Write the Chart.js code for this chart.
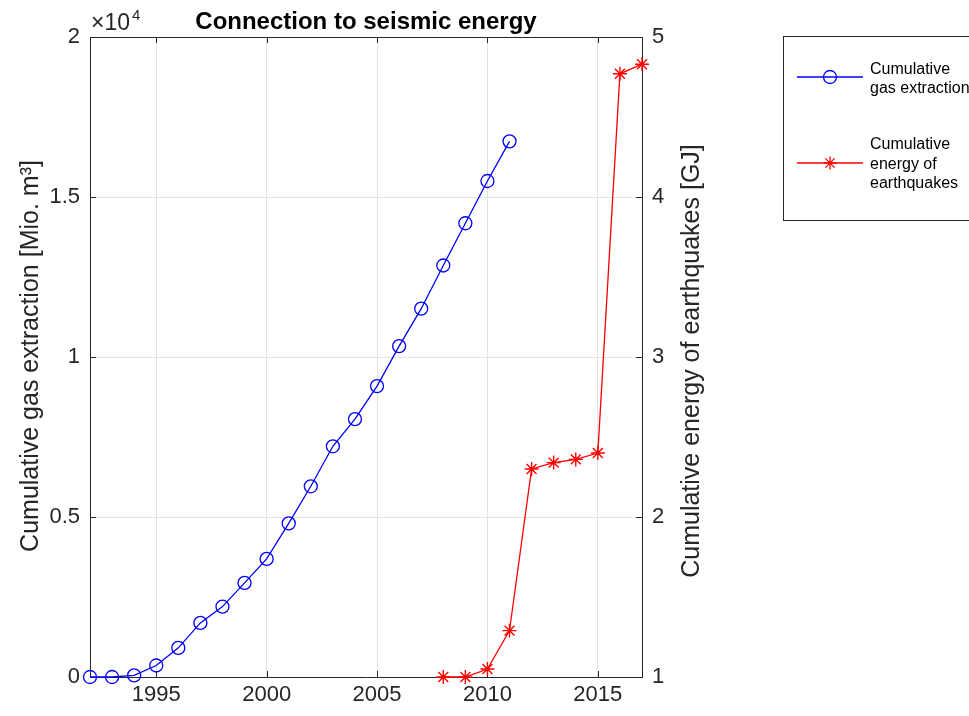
<!DOCTYPE html>
<html><head><meta charset="utf-8">
<script src="https://cdn.jsdelivr.net/npm/chart.js@4.4.1/dist/chart.umd.min.js"></script>
<style>html,body{margin:0;padding:0;background:#fff;overflow:hidden}canvas{display:block}</style>
</head><body>
<canvas id="c" width="969" height="716"></canvas>
<script>
// ---- data ----
const gasYears = [1992,1993,1994,1995,1996,1997,1998,1999,2000,2001,2002,2003,2004,2005,2006,2007,2008,2009,2010,2011];
const gasValues = [0,0,50,360,910,1690,2200,2940,3690,4800,5960,7210,8060,9090,10340,11510,12860,14180,15500,16740];
const quakeYears = [2008,2009,2010,2011,2012,2013,2014,2015,2016,2017];
const quakeValues = [1.0,1.0,1.05,1.29,2.30,2.34,2.36,2.40,4.77,4.83];
const xTicks = [1995,2000,2005,2010,2015];
const leftTicks = [0,5000,10000,15000,20000];
const rightTicks = [1,2,3,4,5];
const titleText = 'Connection to seismic energy';
const leftLabel = 'Cumulative gas extraction [Mio. m\u00B3]';
const rightLabel = 'Cumulative energy of earthquakes [GJ]';
const legendGas = ['Cumulative','gas extraction'];
const legendQuake = ['Cumulative','energy of','earthquakes'];

const FONT = '"Liberation Sans", Arial, Helvetica, sans-serif';
const AXIS = '#262626';
const GRID = '#e3e3e3';
const BLUE = '#0000ff', RED = '#ff0000';
const TL = 6;
Chart.defaults.font.family = FONT;

function drawStar(ctx, x, y, r) {
  ctx.beginPath();
  ctx.moveTo(x, y - r); ctx.lineTo(x, y + r);
  ctx.moveTo(x - r, y); ctx.lineTo(x + r, y);
  const d = r * Math.cos(Math.PI / 4);
  ctx.moveTo(x - d, y - d); ctx.lineTo(x + d, y + d);
  ctx.moveTo(x - d, y + d); ctx.lineTo(x + d, y - d);
  ctx.stroke();
}

const decor = {
  id: 'decor',
  beforeDatasetsDraw(chart) {
    const ctx = chart.ctx, a = chart.chartArea;
    const xs = chart.scales.x, yl = chart.scales.y, yr = chart.scales.y1;
    ctx.save();
    ctx.strokeStyle = AXIS; ctx.lineWidth = 1;
    ctx.beginPath();
    ctx.moveTo(a.left, Math.round(a.top) + 0.5); ctx.lineTo(a.right, Math.round(a.top) + 0.5);
    xs.ticks.forEach(t => {
      const px = Math.round(xs.getPixelForValue(t.value)) + 0.5;
      ctx.moveTo(px, a.bottom); ctx.lineTo(px, a.bottom - TL);
      ctx.moveTo(px, a.top); ctx.lineTo(px, a.top + TL);
    });
    yl.ticks.forEach(t => {
      const py = Math.round(yl.getPixelForValue(t.value)) + 0.5;
      ctx.moveTo(a.left, py); ctx.lineTo(a.left + TL, py);
    });
    yr.ticks.forEach(t => {
      const py = Math.round(yr.getPixelForValue(t.value)) + 0.5;
      ctx.moveTo(a.right, py); ctx.lineTo(a.right - TL, py);
    });
    ctx.stroke();
    ctx.restore();
  },
  afterDraw(chart) {
    const ctx = chart.ctx, a = chart.chartArea;
    ctx.save();
    // title
    ctx.fillStyle = '#000';
    ctx.font = 'bold 24px ' + FONT;
    ctx.textAlign = 'center'; ctx.textBaseline = 'alphabetic';
    ctx.fillText(titleText, (a.left + a.right) / 2, 29);
    // exponent
    ctx.fillStyle = AXIS;
    ctx.textAlign = 'left';
    ctx.font = '23px ' + FONT;
    ctx.fillText('\u00D710', 91, 30);
    const w = ctx.measureText('\u00D710').width;
    ctx.font = '15px ' + FONT;
    ctx.fillText('4', 91 + w + 2, 20);
    // axis titles
    ctx.font = '25px ' + FONT;
    ctx.textAlign = 'center';
    ctx.save(); ctx.translate(38, 356); ctx.rotate(-Math.PI / 2); ctx.fillText(leftLabel, 0, 0); ctx.restore();
    ctx.save(); ctx.translate(699, 361); ctx.rotate(-Math.PI / 2); ctx.fillText(rightLabel, 0, 0); ctx.restore();
    // legend
    ctx.strokeStyle = AXIS; ctx.lineWidth = 1;
    ctx.strokeRect(783.5, 36.5, 300, 184);
    ctx.lineWidth = 1.3;
    ctx.strokeStyle = BLUE;
    ctx.beginPath(); ctx.moveTo(797, 77); ctx.lineTo(863, 77); ctx.stroke();
    ctx.beginPath(); ctx.arc(830, 77, 6.5, 0, Math.PI * 2); ctx.stroke();
    ctx.strokeStyle = RED;
    ctx.beginPath(); ctx.moveTo(797, 163); ctx.lineTo(863, 163); ctx.stroke();
    drawStar(ctx, 830, 163, 6.5);
    ctx.fillStyle = '#000';
    ctx.font = '16px ' + FONT;
    ctx.textAlign = 'left'; ctx.textBaseline = 'alphabetic';
    [74, 93].forEach((y, i) => ctx.fillText(legendGas[i], 870, y));
    [149, 169, 188].forEach((y, i) => ctx.fillText(legendQuake[i], 870, y));
    ctx.restore();
  }
};

new Chart(document.getElementById('c'), {
  type: 'line',
  data: {
    datasets: [
      {
        label: 'Cumulative gas extraction',
        data: gasYears.map((x, i) => ({x, y: gasValues[i]})),
        yAxisID: 'y',
        borderColor: BLUE, borderWidth: 1.3,
        pointStyle: 'circle', pointRadius: 6.5, pointBorderWidth: 1.3,
        pointBorderColor: BLUE, pointBackgroundColor: 'rgba(0,0,0,0)',
        pointHoverRadius: 6.5,
        tension: 0, fill: false, clip: false
      },
      {
        label: 'Cumulative energy of earthquakes',
        data: quakeYears.map((x, i) => ({x, y: quakeValues[i]})),
        yAxisID: 'y1',
        borderColor: RED, borderWidth: 1.3,
        pointStyle: 'star', pointRadius: 7, pointBorderWidth: 1.4,
        pointBorderColor: RED, pointBackgroundColor: RED,
        pointHoverRadius: 7,
        tension: 0, fill: false, clip: false
      }
    ]
  },
  options: {
    responsive: false, animation: false, devicePixelRatio: 1,
    layout: { padding: { top: 37, right: 267, bottom: 0, left: 0 } },
    plugins: { legend: { display: false }, title: { display: false }, tooltip: { enabled: false } },
    events: [],
    scales: {
      x: {
        type: 'linear', min: 1992, max: 2017,
        afterBuildTicks: s => { s.ticks = xTicks.map(v => ({value: v})); },
        afterFit: s => { s.height = 39; },
        ticks: { color: AXIS, font: { size: 22 }, padding: 5, callback: v => String(v), maxRotation: 0, autoSkip: false },
        grid: { color: GRID, lineWidth: 1, drawTicks: false },
        border: { color: AXIS, width: 1 }
      },
      y: {
        type: 'linear', position: 'left', min: 0, max: 20000,
        afterBuildTicks: s => { s.ticks = leftTicks.map(v => ({value: v})); },
        afterFit: s => { s.width = 90; },
        ticks: { color: AXIS, font: { size: 22 }, padding: 10, callback: v => String(v / 10000) },
        grid: { color: GRID, lineWidth: 1, drawTicks: false },
        border: { color: AXIS, width: 1 }
      },
      y1: {
        type: 'linear', position: 'right', min: 1, max: 5,
        afterBuildTicks: s => { s.ticks = rightTicks.map(v => ({value: v})); },
        afterFit: s => { s.width = 60; },
        ticks: { color: AXIS, font: { size: 22 }, padding: 10, callback: v => String(v) },
        grid: { display: true, drawOnChartArea: false, drawTicks: false },
        border: { color: AXIS, width: 1 }
      }
    }
  },
  plugins: [decor]
});
</script>
</body></html>
